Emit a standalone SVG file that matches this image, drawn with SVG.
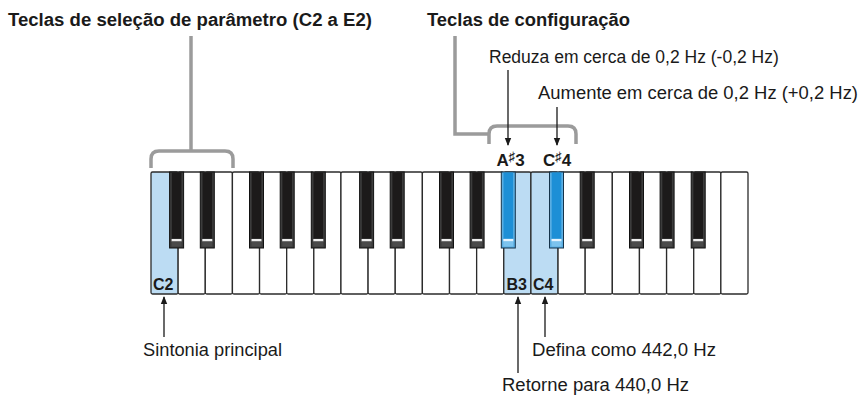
<svg xmlns="http://www.w3.org/2000/svg" width="860" height="396" viewBox="0 0 860 396">
<defs>
<style>
text{font-family:"Liberation Sans",Arial,Helvetica,sans-serif;fill:#1a1a1a}
.t{font-size:18px;font-weight:bold}
.r{font-size:17.5px}
.k{font-size:16px;font-weight:bold}
.kn{font-size:17px;font-weight:bold}
.sh{font-size:13px}
.wk{fill:#fff;stroke:#2b2b2b;stroke-width:1.3}
.wh{fill:#bcdcf3;stroke:#2b2b2b;stroke-width:1.3}
.bo{fill:#3c3c3c;stroke:#111;stroke-width:1}
.bi{fill:#1c1a1a}
.bs{fill:#eee}
.bb{fill:#4a4a4a}
.ho{fill:#5aaee3;stroke:#15334a;stroke-width:1}
.hi{fill:#1d8fd6}
.hs{fill:#e6f4ff}
.hb{fill:#7cc3ee}
.br{fill:none;stroke:#9b9b9b;stroke-width:3.5}
.ar{fill:none;stroke:#1a1a1a;stroke-width:1.3}
</style>
<marker id="ah" markerWidth="8" markerHeight="8" refX="7" refY="4" orient="auto" markerUnits="userSpaceOnUse">
<path d="M0,0.8 L8,4 L0,7.2 Z" fill="#1a1a1a"/>
</marker>
</defs>

<g id="keyboard">
<g id="white-keys">
<rect class="wh" x="151" y="172" width="27.14" height="122" rx="1.5"/>
<rect class="wk" x="178.14" y="172" width="27.14" height="122" rx="1.5"/>
<rect class="wk" x="205.27" y="172" width="27.14" height="122" rx="1.5"/>
<rect class="wk" x="232.41" y="172" width="27.14" height="122" rx="1.5"/>
<rect class="wk" x="259.55" y="172" width="27.14" height="122" rx="1.5"/>
<rect class="wk" x="286.68" y="172" width="27.14" height="122" rx="1.5"/>
<rect class="wk" x="313.82" y="172" width="27.14" height="122" rx="1.5"/>
<rect class="wk" x="340.95" y="172" width="27.14" height="122" rx="1.5"/>
<rect class="wk" x="368.09" y="172" width="27.14" height="122" rx="1.5"/>
<rect class="wk" x="395.23" y="172" width="27.14" height="122" rx="1.5"/>
<rect class="wk" x="422.36" y="172" width="27.14" height="122" rx="1.5"/>
<rect class="wk" x="449.5" y="172" width="27.14" height="122" rx="1.5"/>
<rect class="wk" x="476.64" y="172" width="27.14" height="122" rx="1.5"/>
<rect class="wh" x="503.77" y="172" width="27.14" height="122" rx="1.5"/>
<rect class="wh" x="530.91" y="172" width="27.14" height="122" rx="1.5"/>
<rect class="wk" x="558.05" y="172" width="27.14" height="122" rx="1.5"/>
<rect class="wk" x="585.18" y="172" width="27.14" height="122" rx="1.5"/>
<rect class="wk" x="612.32" y="172" width="27.14" height="122" rx="1.5"/>
<rect class="wk" x="639.45" y="172" width="27.14" height="122" rx="1.5"/>
<rect class="wk" x="666.59" y="172" width="27.14" height="122" rx="1.5"/>
<rect class="wk" x="693.73" y="172" width="27.14" height="122" rx="1.5"/>
<rect class="wk" x="720.86" y="172" width="27.14" height="122" rx="1.5"/>
</g>
<g id="black-keys">
<g transform="translate(169.6,172)"><rect class="bo" x="0" y="0" width="14" height="76"/><rect class="bi" x="2.2" y="0.5" width="9.6" height="66"/><rect class="bs" x="2" y="67" width="10" height="2.5"/><rect class="bb" x="2" y="69.5" width="10" height="5"/></g>
<g transform="translate(200.3,172)"><rect class="bo" x="0" y="0" width="14" height="76"/><rect class="bi" x="2.2" y="0.5" width="9.6" height="66"/><rect class="bs" x="2" y="67" width="10" height="2.5"/><rect class="bb" x="2" y="69.5" width="10" height="5"/></g>
<g transform="translate(249.5,172)"><rect class="bo" x="0" y="0" width="14" height="76"/><rect class="bi" x="2.2" y="0.5" width="9.6" height="66"/><rect class="bs" x="2" y="67" width="10" height="2.5"/><rect class="bb" x="2" y="69.5" width="10" height="5"/></g>
<g transform="translate(280.2,172)"><rect class="bo" x="0" y="0" width="14" height="76"/><rect class="bi" x="2.2" y="0.5" width="9.6" height="66"/><rect class="bs" x="2" y="67" width="10" height="2.5"/><rect class="bb" x="2" y="69.5" width="10" height="5"/></g>
<g transform="translate(311.3,172)"><rect class="bo" x="0" y="0" width="14" height="76"/><rect class="bi" x="2.2" y="0.5" width="9.6" height="66"/><rect class="bs" x="2" y="67" width="10" height="2.5"/><rect class="bb" x="2" y="69.5" width="10" height="5"/></g>
<g transform="translate(359.6,172)"><rect class="bo" x="0" y="0" width="14" height="76"/><rect class="bi" x="2.2" y="0.5" width="9.6" height="66"/><rect class="bs" x="2" y="67" width="10" height="2.5"/><rect class="bb" x="2" y="69.5" width="10" height="5"/></g>
<g transform="translate(390.2,172)"><rect class="bo" x="0" y="0" width="14" height="76"/><rect class="bi" x="2.2" y="0.5" width="9.6" height="66"/><rect class="bs" x="2" y="67" width="10" height="2.5"/><rect class="bb" x="2" y="69.5" width="10" height="5"/></g>
<g transform="translate(439.5,172)"><rect class="bo" x="0" y="0" width="14" height="76"/><rect class="bi" x="2.2" y="0.5" width="9.6" height="66"/><rect class="bs" x="2" y="67" width="10" height="2.5"/><rect class="bb" x="2" y="69.5" width="10" height="5"/></g>
<g transform="translate(470.1,172)"><rect class="bo" x="0" y="0" width="14" height="76"/><rect class="bi" x="2.2" y="0.5" width="9.6" height="66"/><rect class="bs" x="2" y="67" width="10" height="2.5"/><rect class="bb" x="2" y="69.5" width="10" height="5"/></g>
<g id="key-A-sharp-3" transform="translate(501.3,172)"><rect class="ho" x="0" y="0" width="14" height="76"/><rect class="hi" x="2.2" y="0.5" width="9.6" height="66"/><rect class="hs" x="2" y="67" width="10" height="2.5"/><rect class="hb" x="2" y="69.5" width="10" height="5"/></g>
<g id="key-C-sharp-4" transform="translate(549.5,172)"><rect class="ho" x="0" y="0" width="14" height="76"/><rect class="hi" x="2.2" y="0.5" width="9.6" height="66"/><rect class="hs" x="2" y="67" width="10" height="2.5"/><rect class="hb" x="2" y="69.5" width="10" height="5"/></g>
<g transform="translate(580.2,172)"><rect class="bo" x="0" y="0" width="14" height="76"/><rect class="bi" x="2.2" y="0.5" width="9.6" height="66"/><rect class="bs" x="2" y="67" width="10" height="2.5"/><rect class="bb" x="2" y="69.5" width="10" height="5"/></g>
<g transform="translate(629.5,172)"><rect class="bo" x="0" y="0" width="14" height="76"/><rect class="bi" x="2.2" y="0.5" width="9.6" height="66"/><rect class="bs" x="2" y="67" width="10" height="2.5"/><rect class="bb" x="2" y="69.5" width="10" height="5"/></g>
<g transform="translate(660.1,172)"><rect class="bo" x="0" y="0" width="14" height="76"/><rect class="bi" x="2.2" y="0.5" width="9.6" height="66"/><rect class="bs" x="2" y="67" width="10" height="2.5"/><rect class="bb" x="2" y="69.5" width="10" height="5"/></g>
<g transform="translate(691.2,172)"><rect class="bo" x="0" y="0" width="14" height="76"/><rect class="bi" x="2.2" y="0.5" width="9.6" height="66"/><rect class="bs" x="2" y="67" width="10" height="2.5"/><rect class="bb" x="2" y="69.5" width="10" height="5"/></g>
</g>
<g id="key-labels">
<text class="k" x="153" y="290">C2</text>
<text class="k" x="506.5" y="290">B3</text>
<text class="k" x="533" y="290">C4</text>
<text class="kn" x="510.5" y="166" text-anchor="middle">A<tspan class="sh" dy="-5">♯</tspan><tspan dy="5">3</tspan></text>
<text class="kn" x="557" y="166" text-anchor="middle">C<tspan class="sh" dy="-5">♯</tspan><tspan dy="5">4</tspan></text>
</g>
</g>

<g id="title-param">
<text class="t" x="8" y="26" textLength="364" lengthAdjust="spacingAndGlyphs">Teclas de seleção de parâmetro (C2 a E2)</text>
</g>
<g id="title-config">
<text class="t" x="427" y="26" textLength="203" lengthAdjust="spacingAndGlyphs">Teclas de configuração</text>
</g>
<g id="label-reduza"><text class="r" x="489" y="63">Reduza em cerca de 0,2 Hz (-0,2 Hz)</text></g>
<g id="label-aumente"><text class="r" x="538" y="99" textLength="320" lengthAdjust="spacingAndGlyphs">Aumente em cerca de 0,2 Hz (+0,2 Hz)</text></g>
<g id="label-sintonia"><text class="r" x="143" y="356" textLength="139" lengthAdjust="spacingAndGlyphs">Sintonia principal</text></g>
<g id="label-defina"><text class="r" x="532" y="356" textLength="184" lengthAdjust="spacingAndGlyphs">Defina como 442,0 Hz</text></g>
<g id="label-retorne"><text class="r" x="502" y="391" textLength="187" lengthAdjust="spacingAndGlyphs">Retorne para 440,0 Hz</text></g>

<g id="connectors">
<path class="br" d="M191,36 V151"/>
<path class="br" d="M151,168 V159 Q151,151 159,151 H225 Q233,151 233,159 V168"/>
<path class="br" d="M455,36 V134 H489"/>
<path class="br" d="M489,144 V134 Q489,126 497,126 H568 Q576,126 576,134 V144"/>
<line class="ar" x1="508" y1="70" x2="508" y2="145" marker-end="url(#ah)"/>
<line class="ar" x1="557" y1="107" x2="557" y2="145" marker-end="url(#ah)"/>
<line class="ar" x1="164" y1="337" x2="164" y2="297" marker-end="url(#ah)"/>
<line class="ar" x1="545" y1="337" x2="545" y2="297" marker-end="url(#ah)"/>
<line class="ar" x1="518" y1="373" x2="518" y2="297" marker-end="url(#ah)"/>
</g>
</svg>
